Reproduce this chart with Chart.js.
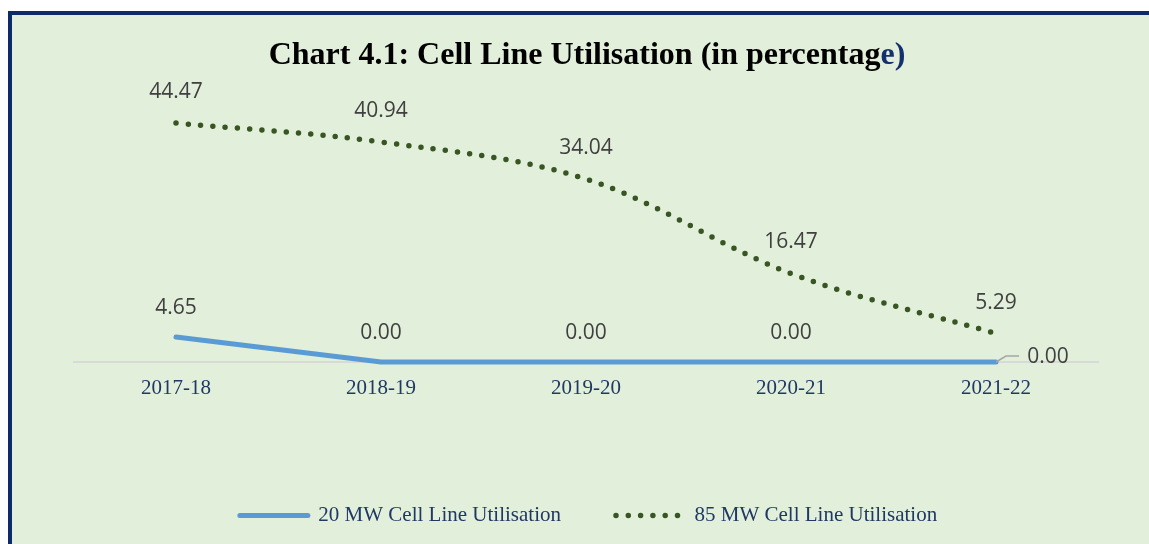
<!DOCTYPE html>
<html><head><meta charset="utf-8">
<script src="https://cdn.jsdelivr.net/npm/chart.js@4.4.0/dist/chart.umd.min.js"></script>
<style>
html,body{margin:0;padding:0;background:#fff;overflow:hidden;width:1149px;height:544px;}
#frame{position:absolute;left:8px;top:11px;width:1160px;height:540px;border-left:4px solid #0d2b6b;border-top:4px solid #0d2b6b;background:#e2efda;}
#wrap{position:absolute;left:0;top:0;width:1150px;height:529px;}
#title{position:absolute;left:0;top:18px;width:1150px;text-align:center;font-family:"Liberation Serif";font-weight:bold;font-size:32px;line-height:40px;color:#000;}
#title span{color:#14306e;}
</style></head>
<body>
<div id="frame">
  <div id="wrap"><canvas id="c"></canvas></div>
  <div id="title">Chart 4.1: Cell Line Utilisation (in percentag<span>e)</span></div>
</div>
<script>
const categories = ['2017-18','2018-19','2019-20','2020-21','2021-22'];
const mw20 = [4.65, 0.00, 0.00, 0.00, 0.00];
const mw85 = [44.47, 40.94, 34.04, 16.47, 5.29];
const seriesNames = ['20 MW Cell Line Utilisation', '85 MW Cell Line Utilisation'];

const labelPlugin = {
  id: 'valueLabels',
  afterDatasetsDraw(chart) {
    const ctx = chart.ctx;
    ctx.save();
    ctx.font = '21px "Open Sans"';
    ctx.fillStyle = '#404040';
    ctx.textAlign = 'center';
    ctx.textBaseline = 'middle';
    chart.data.datasets.forEach((ds, di) => {
      const meta = chart.getDatasetMeta(di);
      meta.data.forEach((pt, i) => {
        const txt = ds.data[i].toFixed(2);
        if (di === 0 && i === ds.data.length - 1) {
          ctx.strokeStyle = '#a6a6a6';
          ctx.lineWidth = 1.5;
          ctx.beginPath();
          ctx.moveTo(pt.x, pt.y);
          ctx.lineTo(pt.x + 10, pt.y - 6);
          ctx.lineTo(pt.x + 23, pt.y - 6);
          ctx.stroke();
          ctx.fillText(txt, pt.x + 52, pt.y - 5);
        } else {
          ctx.fillText(txt, pt.x, pt.y - (di === 0 ? 29 : 31));
        }
      });
    });
    ctx.restore();
  }
};

const legendShift = {
  id: 'legendShift',
  afterLayout(chart) {
    if (chart.legend) { chart.legend.left += 2.5; chart.legend.right += 2.5; }
  }
};

new Chart(document.getElementById('c'), {
  type: 'line',
  data: {
    labels: categories,
    datasets: [
      { label: seriesNames[0], data: mw20, borderColor: '#5b9bd5', borderWidth: 5,
        borderCapStyle: 'round', tension: 0, pointRadius: 0, fill: false, clip: 10 },
      { label: seriesNames[1], data: mw85, borderColor: '#375623', borderWidth: 5.5,
        borderDash: [0, 12.3], borderCapStyle: 'round', tension: 0.35, pointRadius: 0, fill: false, clip: 10 }
    ]
  },
  options: {
    responsive: true,
    maintainAspectRatio: false,
    animation: false,
    layout: { padding: { top: 78.3, left: 61.5, right: 63.5, bottom: 8 } },
    plugins: {
      title: { display: false },
      tooltip: { enabled: false },
      legend: {
        position: 'bottom',
        labels: {
          usePointStyle: true,
          pointStyleWidth: 68,
          padding: 55,
          color: '#1f3864',
          font: { family: 'Liberation Serif', size: 21 },
          generateLabels(chart) {
            return chart.data.datasets.map((ds, i) => ({
              text: ds.label,
              fillStyle: 'rgba(0,0,0,0)',
              strokeStyle: ds.borderColor,
              lineWidth: ds.borderWidth,
              lineDash: ds.borderDash || [],
              lineCap: 'round',
              pointStyle: 'line',
              hidden: false,
              datasetIndex: i,
              fontColor: '#1f3864'
            }));
          }
        }
      }
    },
    scales: {
      x: {
        offset: true,
        grid: { display: true, drawOnChartArea: false, drawTicks: false },
        border: { display: true, color: '#d9d9d9', width: 2 },
        ticks: { color: '#1f3864', font: { family: 'Liberation Serif', size: 21 }, padding: 14 },
        afterFit(axis) { axis.height = 88; }
      },
      y: { display: false, min: 0, max: 50 }
    }
  },
  plugins: [labelPlugin, legendShift]
});
</script>
</body></html>
